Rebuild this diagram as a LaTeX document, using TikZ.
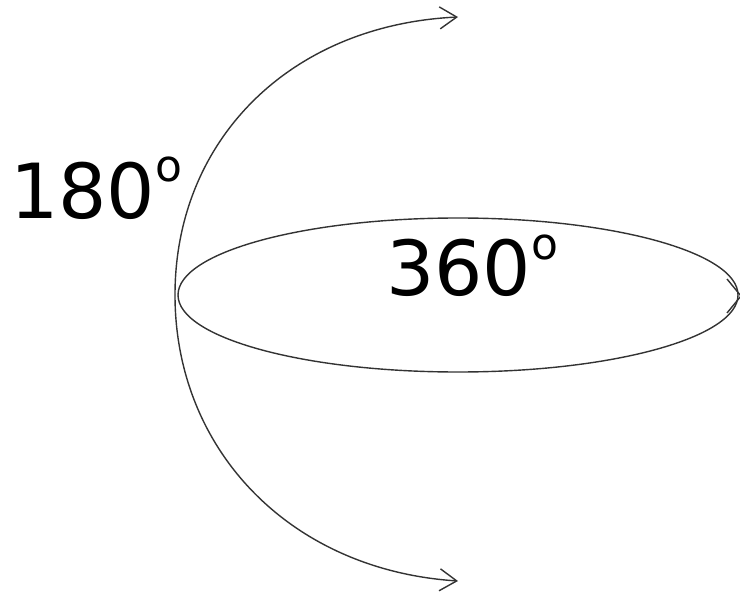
\documentclass[tikz,border=0pt]{standalone}
\usepackage{fontspec}
\setmainfont{DejaVu Sans}
\usetikzlibrary{arrows.meta}
\newcommand{\degsup}{\raisebox{36pt}{\fontsize{44}{44}\selectfont o}}
\begin{document}
\begin{tikzpicture}[x=1pt,y=-1pt,
  line/.style={draw=black!80,line width=1.4pt},
  tip/.style={-{Straight Barb[length=17pt,width=22pt,line width=1.4pt]}},
  lbl/.style={font=\fontsize{76}{80}\selectfont,inner sep=0pt,anchor=base west}]
\useasboundingbox (0,0) rectangle (740,594);
\coordinate (top) at (458,17);
\coordinate (left) at (175,295);
\coordinate (bot) at (458,581);
\draw[line,tip] (left) .. controls (175,140) and (290,25) .. (top);
\draw[line,tip] (left) .. controls (175,450) and (290,570) .. (bot);
\draw[line] (458,295) ellipse [x radius=280, y radius=77];
\coordinate (ea) at (727,279);
\coordinate (eb) at (741,296);
\coordinate (ec) at (727,313);
\draw[line] (ea) -- (eb) -- (ec);
\node[lbl] (l180) at (10,218) {180\degsup};
\node[lbl] (l360) at (386,295) {360\degsup};
\end{tikzpicture}
\end{document}
